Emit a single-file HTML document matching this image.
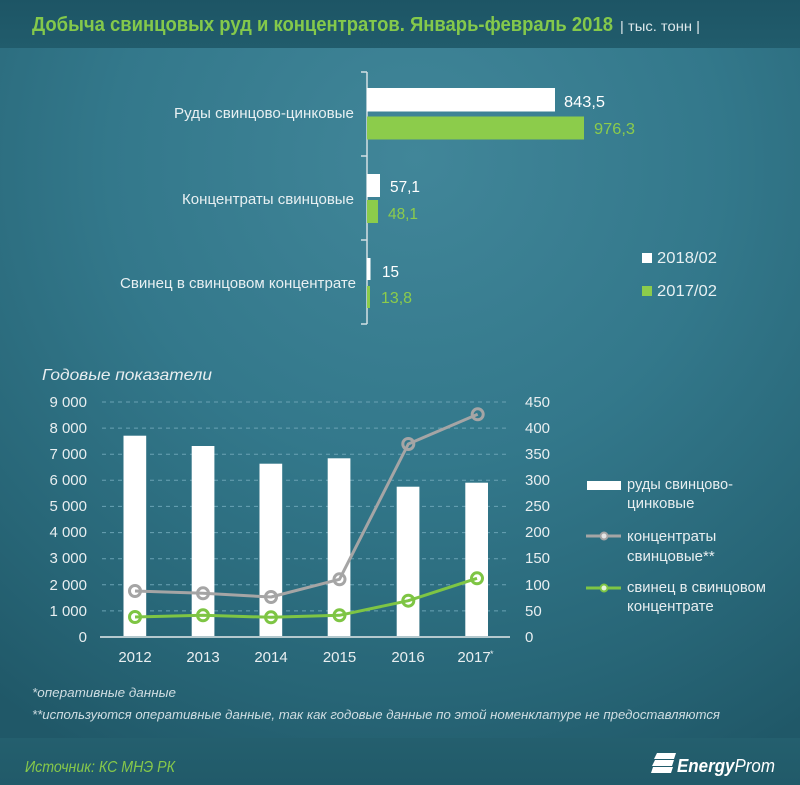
<!DOCTYPE html>
<html><head><meta charset="utf-8"><style>
html,body{margin:0;padding:0;background:#2a6677;}
svg{display:block;}
text{font-family:"Liberation Sans","Noto Sans CJK SC",sans-serif;}
</style></head><body>
<svg width="800" height="785" viewBox="0 0 800 785" xmlns="http://www.w3.org/2000/svg">
<defs>
<radialGradient id="bg" cx="0.52" cy="0.22" r="0.85" fx="0.52" fy="0.2">
<stop offset="0" stop-color="#418699"/>
<stop offset="0.45" stop-color="#33788b"/>
<stop offset="0.8" stop-color="#276576"/>
<stop offset="1" stop-color="#205868"/>
</radialGradient>
<linearGradient id="top" x1="0" y1="0" x2="0" y2="1">
<stop offset="0" stop-color="#1d5565"/>
<stop offset="1" stop-color="#215c6c"/>
</linearGradient>
<linearGradient id="bot" x1="0" y1="0" x2="0" y2="1">
<stop offset="0" stop-color="#245f6e"/>
<stop offset="1" stop-color="#215a69"/>
</linearGradient>
</defs>
<rect width="800" height="785" fill="url(#bg)"/>
<rect width="800" height="48" fill="url(#top)"/>
<rect y="738" width="800" height="47" fill="url(#bot)"/>

<!-- Title -->
<text x="32" y="31" font-size="20" font-weight="bold" fill="#84c94b" textLength="581" lengthAdjust="spacingAndGlyphs">Добыча свинцовых руд и концентратов. Январь-февраль 2018</text>
<text x="620" y="31" font-size="14" fill="#dfe9ec" textLength="80" lengthAdjust="spacingAndGlyphs">| тыс. тонн |</text>

<!-- Top bar chart -->
<g stroke="#d3e0e4" stroke-width="1.5" fill="none">
<line x1="367" y1="72" x2="367" y2="324"/>
<line x1="361" y1="72" x2="367" y2="72"/>
<line x1="361" y1="156" x2="367" y2="156"/>
<line x1="361" y1="240" x2="367" y2="240"/>
<line x1="361" y1="324" x2="367" y2="324"/>
</g>
<rect x="367" y="88" width="188" height="23.5" fill="#ffffff"/>
<rect x="367" y="116.5" width="217" height="23" fill="#8ccc4b"/>
<rect x="367" y="174" width="13" height="23" fill="#ffffff"/>
<rect x="367" y="200" width="11" height="23" fill="#8ccc4b"/>
<rect x="367" y="258" width="3.5" height="22" fill="#ffffff"/>
<rect x="367" y="286" width="3" height="22" fill="#8ccc4b"/>

<g font-size="16">
<text x="564" y="107" fill="#ffffff" textLength="41" lengthAdjust="spacingAndGlyphs">843,5</text>
<text x="594" y="134" fill="#8ccc4b" textLength="41" lengthAdjust="spacingAndGlyphs">976,3</text>
<text x="390" y="192" fill="#ffffff" textLength="30" lengthAdjust="spacingAndGlyphs">57,1</text>
<text x="388" y="219" fill="#8ccc4b" textLength="30" lengthAdjust="spacingAndGlyphs">48,1</text>
<text x="382" y="277" fill="#ffffff" textLength="17" lengthAdjust="spacingAndGlyphs">15</text>
<text x="381" y="303" fill="#8ccc4b" textLength="31" lengthAdjust="spacingAndGlyphs">13,8</text>
</g>
<g font-size="15" fill="#e8f0f2">
<text x="174" y="118" textLength="180" lengthAdjust="spacingAndGlyphs">Руды свинцово-цинковые</text>
<text x="182" y="204" textLength="172" lengthAdjust="spacingAndGlyphs">Концентраты свинцовые</text>
<text x="120" y="288" textLength="236" lengthAdjust="spacingAndGlyphs">Свинец в свинцовом концентрате</text>
</g>
<rect x="642" y="253" width="10" height="10" fill="#ffffff"/>
<text x="657" y="263" font-size="16" fill="#e8f0f2" textLength="60" lengthAdjust="spacingAndGlyphs">2018/02</text>
<rect x="642" y="286" width="10" height="10" fill="#8ccc4b"/>
<text x="657" y="296" font-size="16" fill="#e8f0f2" textLength="60" lengthAdjust="spacingAndGlyphs">2017/02</text>

<!-- Lower chart -->
<text x="42" y="380" font-size="16" font-style="italic" fill="#e8eef0" textLength="170" lengthAdjust="spacingAndGlyphs">Годовые показатели</text>

<g stroke="#6aa2b4" stroke-width="1" stroke-dasharray="4 4">
<line x1="102" y1="402" x2="510" y2="402"/>
<line x1="102" y1="428.1" x2="510" y2="428.1"/>
<line x1="102" y1="454.2" x2="510" y2="454.2"/>
<line x1="102" y1="480.3" x2="510" y2="480.3"/>
<line x1="102" y1="506.4" x2="510" y2="506.4"/>
<line x1="102" y1="532.6" x2="510" y2="532.6"/>
<line x1="102" y1="558.7" x2="510" y2="558.7"/>
<line x1="102" y1="584.8" x2="510" y2="584.8"/>
<line x1="102" y1="610.9" x2="510" y2="610.9"/>
</g>

<g font-size="15" fill="#e8eef0" text-anchor="end">
<text x="87" y="407">9 000</text>
<text x="87" y="433">8 000</text>
<text x="87" y="459">7 000</text>
<text x="87" y="485">6 000</text>
<text x="87" y="511">5 000</text>
<text x="87" y="537">4 000</text>
<text x="87" y="563">3 000</text>
<text x="87" y="590">2 000</text>
<text x="87" y="616">1 000</text>
<text x="87" y="642">0</text>
</g>
<g font-size="15" fill="#e8eef0">
<text x="525" y="407">450</text>
<text x="525" y="433">400</text>
<text x="525" y="459">350</text>
<text x="525" y="485">300</text>
<text x="525" y="511">250</text>
<text x="525" y="537">200</text>
<text x="525" y="563">150</text>
<text x="525" y="590">100</text>
<text x="525" y="616">50</text>
<text x="525" y="642">0</text>
</g>

<g fill="#ffffff">
<rect x="123.5" y="435.7" width="22.7" height="201.3"/>
<rect x="191.7" y="446" width="22.7" height="191"/>
<rect x="259.5" y="463.7" width="22.7" height="173.3"/>
<rect x="327.7" y="458.3" width="22.7" height="178.7"/>
<rect x="396.7" y="486.7" width="22.7" height="150.3"/>
<rect x="465.3" y="482.7" width="22.7" height="154.3"/>
</g>
<line x1="100" y1="637" x2="510" y2="637" stroke="#b5c9ce" stroke-width="2"/>

<polyline points="135,591 203,593.3 271,597 339.5,579.3 408.3,444 477.7,414.3" fill="none" stroke="#a5a5a5" stroke-width="3" stroke-linejoin="round"/>
<g fill="none" stroke="#a5a5a5" stroke-width="3">
<circle cx="135" cy="591" r="5.5"/>
<circle cx="203" cy="593.3" r="5.5"/>
<circle cx="271" cy="597" r="5.5"/>
<circle cx="339.5" cy="579.3" r="5.5"/>
<circle cx="408.3" cy="444" r="5.5"/>
<circle cx="477.7" cy="414.3" r="5.5"/>
</g>
<polyline points="135,617 203,615.3 271,617.3 339.5,615.3 408.3,600.7 477,578.3" fill="none" stroke="#7ec544" stroke-width="3" stroke-linejoin="round"/>
<g fill="none" stroke="#7ec544" stroke-width="3">
<circle cx="135" cy="617" r="5.5"/>
<circle cx="203" cy="615.3" r="5.5"/>
<circle cx="271" cy="617.3" r="5.5"/>
<circle cx="339.5" cy="615.3" r="5.5"/>
<circle cx="408.3" cy="600.7" r="5.5"/>
<circle cx="477" cy="578.3" r="5.5"/>
</g>

<g font-size="15" fill="#e8eef0" text-anchor="middle">
<text x="135" y="662">2012</text>
<text x="203" y="662">2013</text>
<text x="271" y="662">2014</text>
<text x="339.5" y="662">2015</text>
<text x="408" y="662">2016</text>
<text x="474" y="662">2017</text>
</g>
<text x="490" y="657" font-size="9" fill="#e8eef0">*</text>

<!-- Lower legend -->
<rect x="587" y="481" width="34" height="9" fill="#ffffff"/>
<line x1="586" y1="536" x2="621" y2="536" stroke="#a5a5a5" stroke-width="3"/>
<circle cx="604" cy="536" r="3.5" fill="#e6e6e6" stroke="#a5a5a5" stroke-width="2"/>
<line x1="586" y1="588" x2="621" y2="588" stroke="#7ec544" stroke-width="3"/>
<circle cx="604" cy="588" r="3.5" fill="#e6f2dc" stroke="#7ec544" stroke-width="2"/>
<g font-size="15" fill="#e8eef0">
<text x="627" y="489" textLength="106" lengthAdjust="spacingAndGlyphs">руды свинцово-</text>
<text x="627" y="508">цинковые</text>
<text x="627" y="541">концентраты</text>
<text x="627" y="561">свинцовые**</text>
<text x="627" y="592" textLength="139" lengthAdjust="spacingAndGlyphs">свинец в свинцовом</text>
<text x="627" y="611">концентрате</text>
</g>

<!-- Footnotes -->
<text x="32" y="697" font-size="13" font-style="italic" fill="#cfdde2" textLength="144" lengthAdjust="spacingAndGlyphs">*оперативные данные</text>
<text x="32" y="719" font-size="13" font-style="italic" fill="#cfdde2" textLength="688" lengthAdjust="spacingAndGlyphs">**используются оперативные данные, так как годовые данные по этой номенклатуре не предоставляются</text>

<text x="25" y="772" font-size="16" font-style="italic" fill="#86c84a" textLength="150" lengthAdjust="spacingAndGlyphs">Источник: КС МНЭ РК</text>

<!-- Logo -->
<g fill="#ffffff">
<polygon points="657,753 676,753 674,759 654,759"/>
<polygon points="655,760 674,760 672,766 652,766"/>
<polygon points="653,767 673,767 671,773 651,773"/>
</g>
<text x="677" y="772" font-size="18" font-style="italic" fill="#ffffff" textLength="98" lengthAdjust="spacingAndGlyphs"><tspan font-weight="bold">Energy</tspan>Prom</text>
</svg>
</body></html>
